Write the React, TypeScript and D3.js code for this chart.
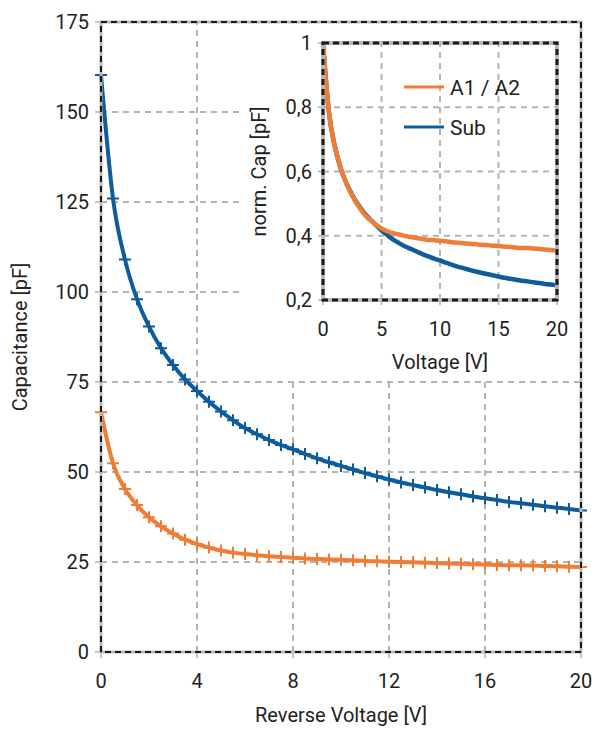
import React, { useEffect, useRef } from "react";
import * as d3 from "d3";

// reverse voltage steps (V), one marker every 0.5 V
const voltage = [
  0, 0.5, 1, 1.5, 2, 2.5, 3, 3.5, 4, 4.5, 5, 5.5, 6, 6.5, 7, 7.5, 8, 8.5, 9, 9.5, 10,
  10.5, 11, 11.5, 12, 12.5, 13, 13.5, 14, 14.5, 15, 15.5, 16, 16.5, 17, 17.5, 18, 18.5, 19, 19.5, 20,
];

// capacitance in pF
const capSub = [
  160.3, 126, 109, 98, 90.4, 84.4, 79.7, 75.7, 72.5, 69.5, 66.8, 64.4, 62.2, 60.5, 58.9, 57.5, 56.3, 55, 53.8, 52.7, 51.7,
  50.7, 49.7, 48.8, 47.9, 47.1, 46.4, 45.7, 45.0, 44.4, 43.8, 43.2, 42.7, 42.2, 41.7, 41.3, 40.9, 40.5, 40.1, 39.7, 39.3,
];
const capA = [
  66.6, 52.4, 45.3, 40.8, 37.4, 34.9, 32.9, 31.2, 30.0, 29.0, 28.2, 27.6, 27.2, 26.9, 26.6, 26.4, 26.2, 26.0, 25.8, 25.7, 25.6,
  25.5, 25.3, 25.2, 25.1, 25.0, 24.9, 24.8, 24.7, 24.6, 24.5, 24.4, 24.3, 24.2, 24.1, 24.1, 24.0, 23.9, 23.8, 23.7, 23.6,
];

// inset: normalized capacitance
const normSub = [
  1, 0.786, 0.68, 0.611, 0.564, 0.527, 0.497, 0.472, 0.452, 0.434, 0.417, 0.402, 0.388, 0.377, 0.367, 0.359, 0.351, 0.343, 0.336, 0.329, 0.323,
  0.316, 0.31, 0.304, 0.299, 0.294, 0.289, 0.285, 0.281, 0.277, 0.273, 0.269, 0.266, 0.263, 0.26, 0.258, 0.255, 0.253, 0.25, 0.248, 0.245,
];
const normA = [
  1, 0.787, 0.68, 0.613, 0.562, 0.524, 0.494, 0.468, 0.45, 0.435, 0.423, 0.414, 0.408, 0.404, 0.399, 0.396, 0.393, 0.39, 0.387, 0.386, 0.384,
  0.383, 0.38, 0.378, 0.377, 0.375, 0.374, 0.372, 0.371, 0.369, 0.368, 0.366, 0.365, 0.363, 0.362, 0.362, 0.36, 0.359, 0.357, 0.356, 0.354,
];

const mainXTicks = [0, 4, 8, 12, 16, 20];
const mainYTicks = [0, 25, 50, 75, 100, 125, 150, 175];
const insetXTicks = [0, 5, 10, 15, 20];
const insetYTicks = [0.2, 0.4, 0.6, 0.8, 1];

const ORANGE = "#ef7d35";
const BLUE = "#0f5c9c";
const GRID = "#b3b3b3";
const FONT = "'Liberation Sans Narrow', Roboto, sans-serif";

const App = () => {
  const svgRef = useRef<SVGSVGElement>(null);

  useEffect(() => {
    const width = 596;
    const height = 729;
    const svg = d3.select(svgRef.current).attr("width", width).attr("height", height);
    svg.selectAll("*").remove();

    // main scales
    const x = d3.scaleLinear().domain([0, 20]).range([101, 581]);
    const y = d3.scaleLinear().domain([0, 175]).range([652, 22]);

    const g = svg.append("g");

    // grid
    g.selectAll("line.hgrid")
      .data(mainYTicks.slice(1, -1))
      .enter()
      .append("line")
      .attr("x1", x(0)).attr("x2", x(20))
      .attr("y1", (d) => y(d)).attr("y2", (d) => y(d))
      .attr("stroke", GRID).attr("stroke-width", 2).attr("stroke-dasharray", "6,5");
    g.selectAll("line.vgrid")
      .data(mainXTicks.slice(1, -1))
      .enter()
      .append("line")
      .attr("x1", (d) => x(d)).attr("x2", (d) => x(d))
      .attr("y1", y(0)).attr("y2", y(175))
      .attr("stroke", GRID).attr("stroke-width", 2).attr("stroke-dasharray", "6,5");

    // tick marks + labels
    g.selectAll("line.ytick")
      .data(mainYTicks)
      .enter()
      .append("line")
      .attr("x1", x(0) - 6).attr("x2", x(0))
      .attr("y1", (d) => y(d)).attr("y2", (d) => y(d))
      .attr("stroke", GRID).attr("stroke-width", 1.5);
    g.selectAll("text.ylab")
      .data(mainYTicks)
      .enter()
      .append("text")
      .attr("x", x(0) - 12).attr("y", (d) => y(d) + 7)
      .attr("text-anchor", "end")
      .attr("font-size", 20).attr("font-family", FONT).attr("fill", "#222")
      .text((d) => d);
    g.selectAll("line.xtick")
      .data(mainXTicks)
      .enter()
      .append("line")
      .attr("x1", (d) => x(d)).attr("x2", (d) => x(d))
      .attr("y1", y(0)).attr("y2", y(0) + 6)
      .attr("stroke", GRID).attr("stroke-width", 1.5);
    g.selectAll("text.xlab")
      .data(mainXTicks)
      .enter()
      .append("text")
      .attr("x", (d) => x(d)).attr("y", y(0) + 36)
      .attr("text-anchor", "middle")
      .attr("font-size", 20).attr("font-family", FONT).attr("fill", "#222")
      .text((d) => d);

    g.append("text")
      .attr("x", 341).attr("y", 722)
      .attr("text-anchor", "middle")
      .attr("font-size", 20).attr("font-family", FONT).attr("fill", "#222")
      .text("Reverse Voltage [V]");
    g.append("text")
      .attr("transform", `translate(27, ${y(87.5)}) rotate(-90)`)
      .attr("text-anchor", "middle")
      .attr("font-size", 20).attr("font-family", FONT).attr("fill", "#222")
      .text("Capacitance [pF]");

    // curves with + markers
    const line = d3.line<number>().x((_, i) => x(voltage[i])).y((d) => y(d)).curve(d3.curveMonotoneX);
    const series = [
      { values: capSub, color: BLUE },
      { values: capA, color: ORANGE },
    ];
    series.forEach((s) => {
      g.append("path")
        .attr("d", line(s.values))
        .attr("fill", "none").attr("stroke", s.color).attr("stroke-width", 4);
      g.selectAll(null)
        .data(s.values)
        .enter()
        .append("path")
        .attr("transform", (d, i) => `translate(${x(voltage[i])},${y(d)})`)
        .attr("d", "M-6,0H6M0,-6V6")
        .attr("stroke", s.color).attr("stroke-width", 2);
    });

    // inset background (hides the main grid)
    g.append("rect")
      .attr("x", 243).attr("y", y(175)).attr("width", x(20) - 243).attr("height", 380 - y(175))
      .attr("fill", "#fff");

    // main frame
    const frame = (sel: any, x0: number, y0: number, x1: number, y1: number, w: number) => {
      sel.append("rect")
        .attr("x", x0).attr("y", y0).attr("width", x1 - x0).attr("height", y1 - y0)
        .attr("fill", "none").attr("stroke", "#b8b8b8").attr("stroke-width", w + 1);
      sel.append("rect")
        .attr("x", x0).attr("y", y0).attr("width", x1 - x0).attr("height", y1 - y0)
        .attr("fill", "none").attr("stroke", "#1a1a1a").attr("stroke-width", w)
        .attr("stroke-dasharray", "6,4");
    };
    frame(g, x(0), y(175), x(20), y(0), 2);

    // inset
    const ix = d3.scaleLinear().domain([0, 20]).range([323, 557]);
    const iy = d3.scaleLinear().domain([0.2, 1]).range([300, 43]);
    const ins = svg.append("g");

    ins.selectAll("line.ihgrid")
      .data(insetYTicks.slice(1, -1))
      .enter()
      .append("line")
      .attr("x1", ix(0)).attr("x2", ix(20))
      .attr("y1", (d) => iy(d)).attr("y2", (d) => iy(d))
      .attr("stroke", GRID).attr("stroke-width", 2).attr("stroke-dasharray", "6,5");
    ins.selectAll("line.ivgrid")
      .data(insetXTicks.slice(1, -1))
      .enter()
      .append("line")
      .attr("x1", (d) => ix(d)).attr("x2", (d) => ix(d))
      .attr("y1", iy(0.2)).attr("y2", iy(1))
      .attr("stroke", GRID).attr("stroke-width", 2).attr("stroke-dasharray", "6,5");

    ins.selectAll("line.iytick")
      .data(insetYTicks)
      .enter()
      .append("line")
      .attr("x1", ix(0) - 5).attr("x2", ix(0))
      .attr("y1", (d) => iy(d)).attr("y2", (d) => iy(d))
      .attr("stroke", GRID).attr("stroke-width", 1.5);
    ins.selectAll("text.iylab")
      .data(insetYTicks)
      .enter()
      .append("text")
      .attr("x", ix(0) - 11).attr("y", (d) => iy(d) + 7)
      .attr("text-anchor", "end")
      .attr("font-size", 20).attr("font-family", FONT).attr("fill", "#222")
      .text((d) => (d === 1 ? "1" : d3.format(".1f")(d).replace(".", ",")));
    ins.selectAll("line.ixtick")
      .data(insetXTicks)
      .enter()
      .append("line")
      .attr("x1", (d) => ix(d)).attr("x2", (d) => ix(d))
      .attr("y1", iy(0.2)).attr("y2", iy(0.2) + 5)
      .attr("stroke", GRID).attr("stroke-width", 1.5);
    ins.selectAll("text.ixlab")
      .data(insetXTicks)
      .enter()
      .append("text")
      .attr("x", (d) => ix(d)).attr("y", iy(0.2) + 36)
      .attr("text-anchor", "middle")
      .attr("font-size", 20).attr("font-family", FONT).attr("fill", "#222")
      .text((d) => d);

    ins.append("text")
      .attr("x", ix(10)).attr("y", 369)
      .attr("text-anchor", "middle")
      .attr("font-size", 20).attr("font-family", FONT).attr("fill", "#222")
      .text("Voltage [V]");
    ins.append("text")
      .attr("transform", `translate(266, ${iy(0.6)}) rotate(-90)`)
      .attr("text-anchor", "middle")
      .attr("font-size", 20).attr("font-family", FONT).attr("fill", "#222")
      .text("norm. Cap [pF]");

    const iline = d3.line<number>().x((_, i) => ix(voltage[i])).y((d) => iy(d)).curve(d3.curveMonotoneX);
    [
      { values: normSub, color: BLUE },
      { values: normA, color: ORANGE },
    ].forEach((s) => {
      ins.append("path")
        .attr("d", iline(s.values))
        .attr("fill", "none").attr("stroke", s.color).attr("stroke-width", 4.5);
    });

    frame(ins, ix(0), iy(1), ix(20), iy(0.2), 3);

    // legend
    const legend = [
      { label: "A1 / A2", color: ORANGE },
      { label: "Sub", color: BLUE },
    ];
    const lg = ins.append("g").attr("transform", "translate(404, 87)");
    legend.forEach((l, i) => {
      lg.append("line")
        .attr("x1", 0).attr("x2", 40)
        .attr("y1", i * 40).attr("y2", i * 40)
        .attr("stroke", l.color).attr("stroke-width", 3);
      lg.append("text")
        .attr("x", 46).attr("y", i * 40 + 8)
        .attr("font-size", 21).attr("font-family", FONT).attr("fill", "#222")
        .text(l.label);
    });
  }, []);

  return <svg ref={svgRef} style={{ position: "absolute", left: 0, top: 0 }}></svg>;
};

export default App;
